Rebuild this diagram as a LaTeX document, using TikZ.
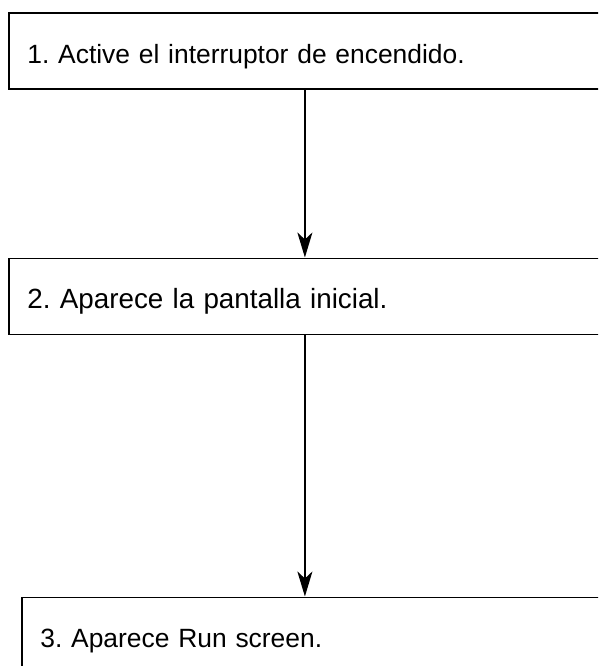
\documentclass[tikz,border=0pt]{standalone}
\usepackage{fontspec}
\setmainfont{Liberation Sans}
\frenchspacing
\usetikzlibrary{arrows.meta, positioning}

\begin{document}
\begin{tikzpicture}[x=1pt, y=1pt,
	stepbox/.style={draw, line width=1.8pt, anchor=north west, minimum height=76pt,
		inner xsep=18.5pt, inner ysep=0pt, text width=#1, align=left,
		text height=28pt, text depth=4pt, font=\fontsize{26.4}{32}\selectfont},
	flowarrow/.style={-{Stealth[length=25pt, width=15pt, inset=7pt]}, line width=2pt}]
	\useasboundingbox (0,0) rectangle (598,-666);
	\clip (0,0) rectangle (598,-666);
	\node[stepbox=555pt] (paso1) at (8,-12.5) {1. Active el interruptor de encendido.};
	\node[stepbox=555pt, font=\fontsize{27.8}{32}\selectfont] (paso2) at (8,-257.5) {2. Aparece la pantalla inicial.};
	\node[stepbox=580pt] (paso3) at (21,-596.5) {3. Aparece Run screen.};
	\draw[flowarrow] (paso1.south) -- (paso2.north);
	\draw[flowarrow] (paso2.south) -- (paso2.south |- paso3.north);
\end{tikzpicture}
\end{document}
